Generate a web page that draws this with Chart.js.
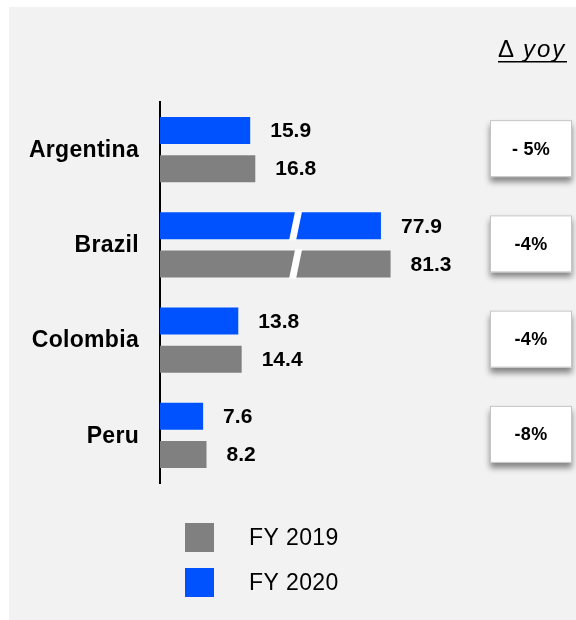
<!DOCTYPE html>
<html>
<head>
<meta charset="utf-8">
<script src="https://cdn.jsdelivr.net/npm/chart.js@4/dist/chart.umd.min.js"></script>
<style>
  html, body { margin: 0; padding: 0; background: #ffffff; }
  #wrap { position: relative; width: 576px; height: 620px; }
  canvas { display: block; }
</style>
</head>
<body>
<div id="wrap"><canvas id="c" width="576" height="620"></canvas></div>
<script>
// ---- data ----
const categories = ['Argentina', 'Brazil', 'Colombia', 'Peru'];
const fy2020 = [15.9, 77.9, 13.8, 7.6];
const fy2019 = [16.8, 81.3, 14.4, 8.2];
const yoyLabels = ['- 5%', '-4%', '-4%', '-8%'];
const seriesNames = ['FY 2019', 'FY 2020'];
const yoyTitleSymbol = 'Δ';
const yoyTitleText = 'yoy';

// broken axis: values above the threshold are drawn compressed
const BREAK_THRESHOLD = 30;
const BREAK_FACTOR = 0.5;
const BREAK_MARK = 23.9;
const toAxis = v => (v > BREAK_THRESHOLD ? v * BREAK_FACTOR : v);

const BLUE = '#0052ff';
const GREY = '#808080';
const FONT = "'Liberation Sans', Arial, sans-serif";

const bgPlugin = {
  id: 'bg',
  beforeDraw(chart) {
    const ctx = chart.ctx;
    ctx.save();
    ctx.fillStyle = '#f2f2f2';
    ctx.fillRect(9, 7, chart.width - 9, chart.height - 7);
    ctx.restore();
  }
};

const overlayPlugin = {
  id: 'overlay',
  afterDatasetsDraw(chart) {
    const ctx = chart.ctx;
    const x = chart.scales.x, y = chart.scales.y;
    ctx.save();
    // break marks
    chart.data.datasets.forEach((ds, di) => {
      const meta = chart.getDatasetMeta(di);
      ds.raw.forEach((v, i) => {
        if (v <= BREAK_THRESHOLD) return;
        const bar = meta.data[i];
        const top = bar.y - bar.height / 2 - 1, bot = bar.y + bar.height / 2 + 1;
        const c = x.getPixelForValue(BREAK_MARK);
        ctx.fillStyle = '#ffffff';
        ctx.beginPath();
        ctx.moveTo(c - 0.5, top);
        ctx.lineTo(c + 6.5, top);
        ctx.lineTo(c + 0.5, bot);
        ctx.lineTo(c - 6.5, bot);
        ctx.closePath();
        ctx.fill();
      });
    });
    // value labels
    ctx.fillStyle = '#000';
    ctx.font = 'bold 21px ' + FONT;
    ctx.textAlign = 'left';
    ctx.textBaseline = 'middle';
    chart.data.datasets.forEach((ds, di) => {
      const meta = chart.getDatasetMeta(di);
      ds.raw.forEach((v, i) => {
        const bar = meta.data[i];
        ctx.fillText(v.toFixed(1), bar.x + 20, bar.y + 1);
      });
    });
    // category labels
    ctx.font = 'bold 23px ' + FONT;
    ctx.letterSpacing = '0.3px';
    ctx.textAlign = 'right';
    categories.forEach((cat, i) => {
      ctx.fillText(cat, 139, y.getPixelForValue(i) + 1);
    });
    // yoy boxes
    categories.forEach((cat, i) => {
      const cy = y.getPixelForValue(i) - 1;
      const bx = 490, bw = 82, bh = 57, by = cy - bh / 2;
      ctx.save();
      ctx.shadowColor = 'rgba(0,0,0,0.45)';
      ctx.shadowBlur = 6;
      ctx.shadowOffsetX = 0;
      ctx.shadowOffsetY = 5;
      ctx.fillStyle = '#ffffff';
      ctx.fillRect(bx, by, bw, bh);
      ctx.restore();
      ctx.strokeStyle = '#c4c4c4';
      ctx.lineWidth = 1;
      ctx.strokeRect(bx + 0.5, by + 0.5, bw - 1, bh - 1);
      ctx.fillStyle = '#000';
      ctx.font = 'bold 18px ' + FONT;
      ctx.letterSpacing = '0.3px';
      ctx.textAlign = 'center';
      ctx.fillText(yoyLabels[i], bx + bw / 2, cy + 1);
    });
    // title
    ctx.textAlign = 'left';
    ctx.textBaseline = 'alphabetic';
    ctx.letterSpacing = '2px';
    const tx = 498, ty = 57;
    ctx.font = '24px ' + FONT;
    ctx.fillText(yoyTitleSymbol, tx, ty);
    ctx.font = 'italic 24px ' + FONT;
    ctx.fillText(yoyTitleText, tx + 25, ty);
    ctx.fillRect(tx, ty + 4, 69, 1.5);
    // legend (FY 2019 first, then FY 2020)
    const legendColors = [GREY, BLUE];
    ctx.font = '23px ' + FONT;
    ctx.letterSpacing = '0.4px';
    ctx.textBaseline = 'middle';
    seriesNames.forEach((name, i) => {
      const ly = 523 + i * 45;
      ctx.fillStyle = legendColors[i];
      ctx.fillRect(185, ly, 29, 29);
      ctx.fillStyle = '#000';
      ctx.fillText(name, 249, ly + 16);
    });
    ctx.restore();
  }
};

new Chart(document.getElementById('c'), {
  type: 'bar',
  data: {
    labels: categories,
    datasets: [
      { label: seriesNames[1], raw: fy2020, data: fy2020.map(toAxis), backgroundColor: BLUE,
        categoryPercentage: 0.8, barPercentage: 0.71 },
      { label: seriesNames[0], raw: fy2019, data: fy2019.map(toAxis), backgroundColor: GREY,
        categoryPercentage: 0.8, barPercentage: 0.71 }
    ]
  },
  options: {
    indexAxis: 'y',
    responsive: false,
    animation: false,
    devicePixelRatio: 1,
    layout: { padding: { top: 102, bottom: 137, left: 0, right: 104 } },
    plugins: { legend: { display: false }, tooltip: { enabled: false }, title: { display: false } },
    scales: {
      x: { display: false, min: 0, max: 55 },
      y: {
        display: true,
        grid: { display: false, drawTicks: false },
        ticks: { display: false },
        border: { display: true, color: '#000', width: 2 },
        afterFit(scale) { scale.width = 160; }
      }
    }
  },
  plugins: [bgPlugin, overlayPlugin]
});
</script>
</body>
</html>
